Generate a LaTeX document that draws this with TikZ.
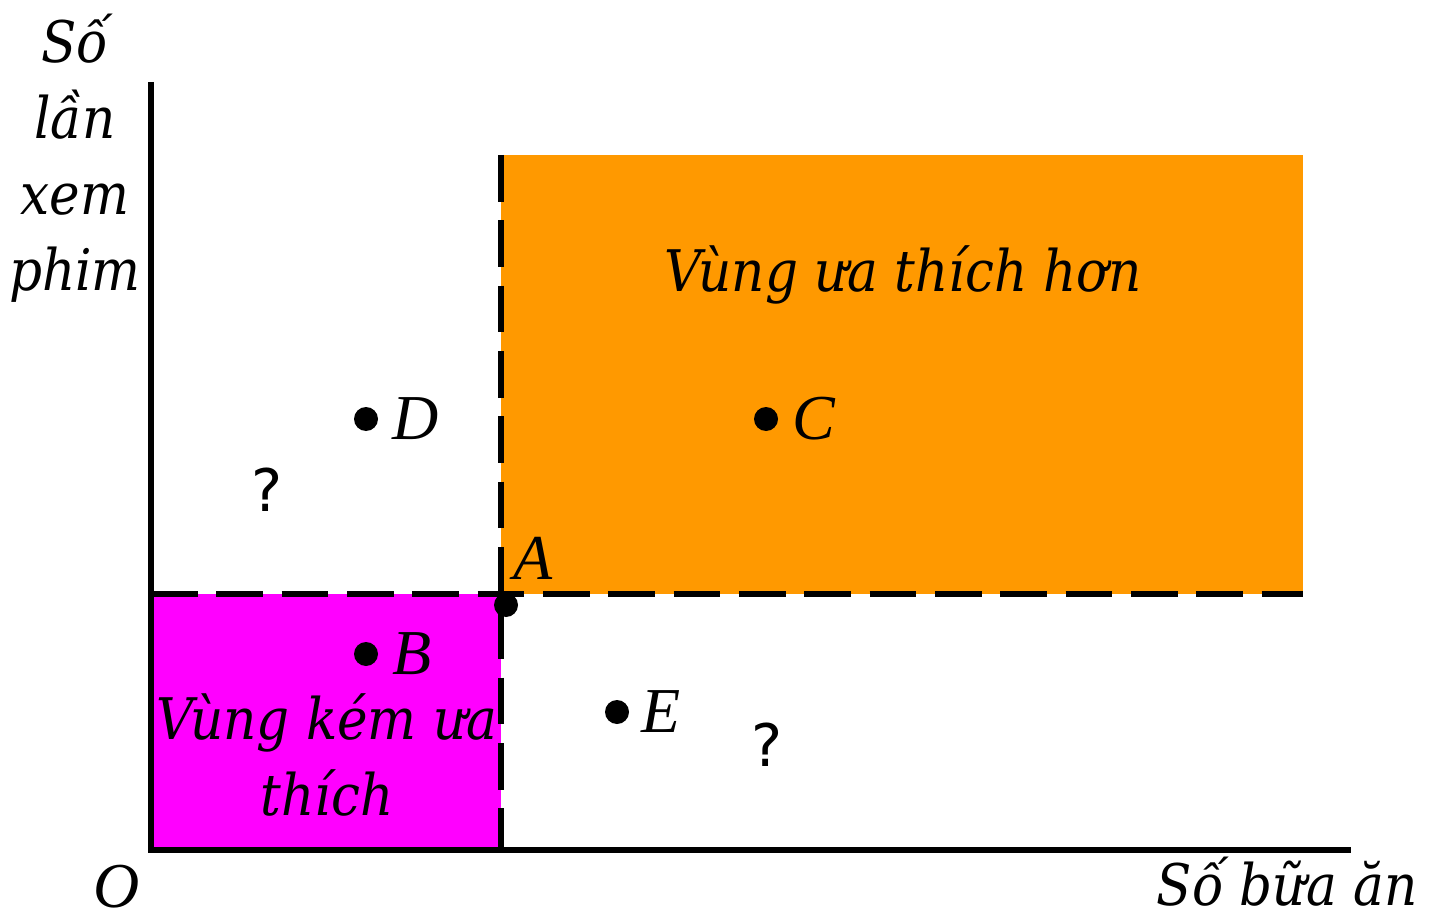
\documentclass[tikz,border=0pt]{standalone}
\usepackage{fontspec}
\setmainfont{DejaVu Serif Condensed}
\newfontfamily\ptfont{Liberation Serif}
\newfontfamily\qfont{DejaVu Sans}
\usetikzlibrary{positioning}
\definecolor{prefcol}{HTML}{FF9900}
\definecolor{lesscol}{HTML}{FF00FF}
\tikzset{
  axis/.style={
    line width=4pt
  },
  border/.style={
    line width=4pt,
    dash pattern=on 35pt off 14pt
  },
  dot/.style={
    shape = circle,
    fill,
    inner sep = 0pt,
    minimum size = 18pt
  },
  ptlabel/.style={
    inner sep = 0pt,
    font=\fontsize{48}{54}\selectfont\ptfont\itshape
  },
  txt/.style={
    inner sep = 0pt,
    align=center,
    font=\fontsize{43}{57}\selectfont\itshape
  },
  ask/.style={
    inner sep = 0pt,
    font=\fontsize{44}{50}\selectfont\qfont
  }
}
\begin{document}
\begin{tikzpicture}[x=0.75pt,y=-0.75pt]
    \useasboundingbox (0,0) rectangle (1429,920);
    \coordinate (O) at (151,850);
    \coordinate (ytop) at (151,82);
    \coordinate (xend) at (1351,850);
    \coordinate (corner) at (501,594);
    % regions
    \fill[prefcol] (corner) rectangle (1303,155);
    \fill[lesscol] (O) rectangle (corner);
    \draw[border] (O |- corner) -- (1303,594);
    \draw[border] (501,155) -- (O -| corner);
    \draw[axis] (ytop) -- (O) -- (xend);
    % points
    \node[dot] (A) at (506,605) {};
    \node[dot] (B) at (366,654) {};
    \node[dot] (C) at (766,419) {};
    \node[dot] (D) at (366,419) {};
    \node[dot] (E) at (617,712) {};
    \node[ptlabel] (Alab) at (533,558) {A};
    \node[ptlabel, right=20pt of B.center] (Blab) {B};
    \node[ptlabel, right=20pt of C.center] (Clab) {C};
    \node[ptlabel, right=20pt of D.center] (Dlab) {D};
    \node[ptlabel, right=18pt of E.center] (Elab) {E};
    \node[ask] (q1) at (267,490) {?};
    \node[ask] (q2) at (767,745) {?};
    % texts
    \node[txt] (better) at (903,275) {Vùng ưa thích hơn};
    \node[txt] (worse) at (327,755) {Vùng kém ưa\\thích};
    \node[txt] (ylab) at (75,158) {Số\\lần\\xem\\phim};
    \node[txt] (xlab) at (1287,882) {Số bữa ăn};
    \node[ptlabel] (Olab) at (117,887) {O};
\end{tikzpicture}
\end{document}
